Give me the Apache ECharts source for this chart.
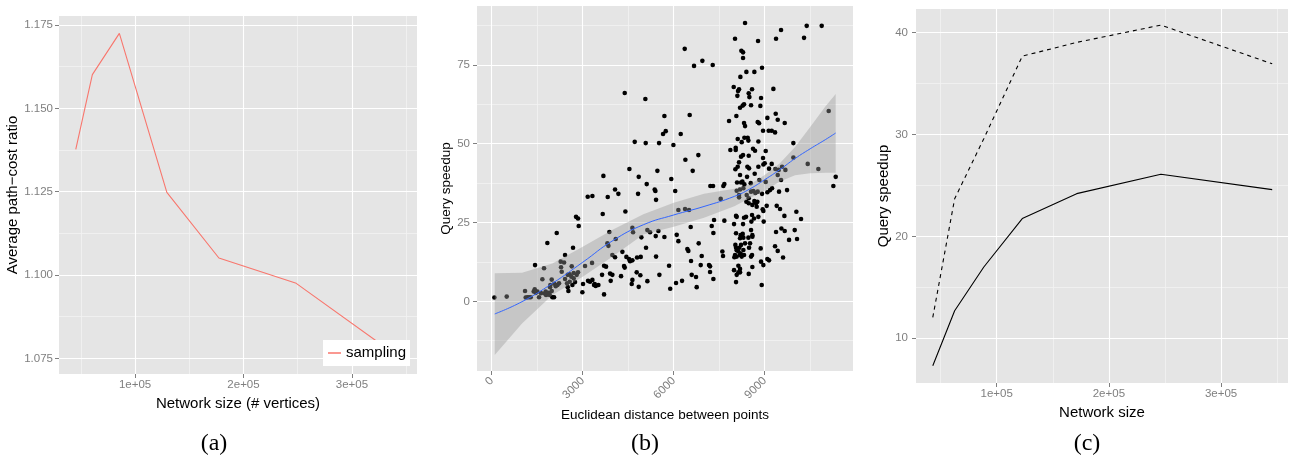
<!DOCTYPE html>
<html>
<head>
<meta charset="utf-8">
<script src="https://cdn.jsdelivr.net/npm/echarts@6/dist/echarts.min.js"></script>
<style>
html,body{margin:0;padding:0;background:#ffffff;}
#chart{width:1289px;height:457px;}
</style>
</head>
<body>
<div id="chart"></div>
<script>
// ---------------- Panel (a) ----------------
const aNetworkSize   = [45300, 60600, 85500, 129300, 177300, 248600, 347000];
const aPathCostRatio = [1.1377, 1.1601, 1.1725, 1.1248, 1.1051, 1.0975, 1.0745];
const aXTicks = [100000, 200000, 300000];
const aXMinor = [50000, 150000, 250000, 350000];
const aYTicks = [1.075, 1.100, 1.125, 1.150, 1.175];
const aYMinor = [1.0875, 1.1125, 1.1375, 1.1625];

// ---------------- Panel (b) ----------------
const bPoints = [
[88,1.2],[495,1.5],[1099,3.3],[1121,1.2],[1176,1.3],[1231,1.3],[1286,1.3],[1385,3.1],[1418,3.8],[1429,11.5],
[1451,2.7],[1506,3.1],[1560,1.3],[1626,2.6],[1670,7.0],[1725,10.5],[1747,2.5],[1780,3.1],[1791,2.0],[1835,2.3],
[1835,18.5],[1868,2.7],[1890,2.5],[1912,2.0],[1923,4.5],[1934,5.2],[1978,3.3],[1978,6.9],[2000,1.3],[2055,1.3],
[2066,5.6],[2110,4.8],[2143,21.7],[2165,5.2],[2220,5.7],[2275,12.6],[2286,10.8],[2308,9.4],[2385,12.3],[2418,7.1],
[2418,14.7],[2484,5.7],[2506,4.5],[2506,8.4],[2528,3.3],[2571,6.2],[2571,8.6],[2626,7.8],[2638,11.1],[2660,5.2],
[2681,17.0],[2703,7.3],[2703,9.0],[2747,6.1],[2780,26.8],[2802,8.4],[2846,9.2],[2846,26.3],[2868,23.9],[2989,2.9],
[3011,5.5],[3077,11.2],[3165,33.2],[3176,6.5],[3242,6.2],[3308,12.2],[3319,6.8],[3319,33.4],[3374,5.2],[3396,5.5],
[3429,4.9],[3517,5.2],[3638,8.4],[3660,27.7],[3682,39.8],[3704,2.2],[3704,11.3],[3770,11.0],[3814,18.4],[3825,33.1],
[3847,17.6],[3879,22.0],[3902,8.8],[3923,6.5],[3978,8.4],[3978,14.7],[4066,14.0],[4066,35.5],[4088,19.8],[4176,34.1],
[4264,8.0],[4308,15.7],[4363,11.2],[4385,10.7],[4385,66.1],[4407,28.5],[4440,14.1],[4528,13.4],[4539,42.0],[4561,12.7],
[4616,5.5],[4638,6.8],[4638,13.0],[4638,23.3],[4660,21.9],[4715,50.6],[4780,9.2],[4792,13.9],[4825,34.1],[4847,4.6],
[4847,39.5],[4900,8.3],[4913,14.1],[4934,20.3],[5066,64.2],[5077,50.2],[5088,17.0],[5110,37.2],[5132,6.4],[5132,22.6],
[5220,21.9],[5374,35.5],[5396,35.0],[5407,20.7],[5418,14.2],[5418,32.2],[5462,41.4],[5495,22.3],[5517,50.2],[5528,8.4],
[5649,53.1],[5693,20.4],[5693,58.8],[5737,54.0],[5847,11.3],[5885,4.0],[5920,38.8],[5990,49.6],
[6050,35.0],[6077,5.8],[6099,21.1],[6154,19.1],[6154,29.0],[6231,53.1],[6275,6.5],[6363,80.1],[6374,29.3],[6385,44.9],
[6450,16.6],[6483,16.0],[6505,29.0],[6527,59.1],[6560,23.6],[6571,12.8],[6593,8.4],[6626,41.4],[6670,74.7],[6736,7.7],
[6758,4.5],[6813,46.4],[6824,18.4],[6890,11.5],[6923,14.4],[6945,76.3],[7165,11.5],[7198,11.1],[7198,9.3],[7209,36.6],
[7253,23.9],[7286,75.0],[7297,36.6],[7308,21.7],[7308,7.1],[7330,25.8],[7549,32.5],[7604,15.8],[7626,14.4],[7637,36.6],
[7670,37.2],[7670,25.6],[7824,57.2],[7868,48.0],[7978,68.0],[7989,24.5],[7989,9.9],[8000,14.0],[8022,83.3],[8022,14.7],
[8033,41.9],[8033,17.9],[8044,48.7],[8044,48.0],[8055,27.1],[8055,21.6],[8055,17.0],[8055,6.1],[8066,58.8],[8077,35.1],
[8077,26.8],[8077,16.2],[8077,14.2],[8077,8.4],[8088,37.7],[8099,65.2],[8110,51.5],[8110,42.7],[8121,66.7],[8132,15.8],
[8132,11.3],[8132,9.2],[8154,67.3],[8154,44.1],[8154,33.0],[8154,33.7],[8165,17.0],[8187,61.4],[8187,40.1],[8187,35.5],
[8187,20.0],[8187,14.7],[8187,10.3],[8187,9.2],[8198,71.2],[8209,21.0],[8209,15.2],[8220,45.9],[8220,37.7],[8220,17.9],
[8231,79.5],[8242,50.5],[8242,14.2],[8264,38.0],[8275,62.1],[8275,21.4],[8286,79.0],[8286,77.2],[8286,46.4],[8286,24.5],
[8297,35.9],[8297,20.2],[8297,16.3],[8319,62.5],[8319,56.6],[8319,26.5],[8319,14.7],[8330,51.9],[8330,37.1],[8352,88.3],
[8352,55.6],[8352,18.4],[8385,26.8],[8396,72.8],[8396,31.6],[8407,33.7],[8418,39.5],[8429,42.7],[8440,51.9],[8462,51.0],
[8462,20.2],[8473,66.0],[8473,46.2],[8473,32.7],[8473,31.1],[8473,8.7],[8484,42.2],[8484,17.0],[8495,64.8],[8517,18.4],
[8539,37.5],[8550,62.2],[8550,34.8],[8550,22.6],[8550,14.2],[8561,25.3],[8582,67.3],[8582,27.4],[8582,14.7],[8593,30.6],
[8593,21.0],[8593,20.5],[8593,10.9],[8615,48.4],[8626,35.0],[8648,26.3],[8659,72.8],[8659,31.8],[8670,40.5],[8681,47.8],
[8692,34.4],[8714,31.1],[8736,30.0],[8758,31.6],[8769,56.9],[8769,34.8],[8780,82.6],[8791,50.7],[8791,42.7],[8791,26.8],
[8813,56.5],[8824,38.5],[8857,62.0],[8868,16.8],[8879,64.5],[8879,12.6],[8901,5.2],[8912,74.1],[8912,34.1],[8934,29.2],
[8945,54.1],[8945,45.5],[8956,43.4],[8956,28.7],[8956,11.5],[8967,25.3],[9000,43.8],[9033,47.7],[9033,37.9],[9066,30.3],
[9088,58.2],[9088,34.6],[9088,13.4],[9132,54.1],[9143,42.1],[9143,13.0],[9176,35.3],[9231,54.1],[9231,43.6],[9242,35.9],
[9286,67.4],[9341,53.6],[9341,17.5],[9352,42.0],[9363,59.5],[9374,83.3],[9374,22.0],[9396,30.3],[9429,57.6],[9429,40.1],
[9429,16.0],[9462,41.7],[9473,34.8],[9506,29.3],[9539,86.1],[9539,38.5],[9550,23.1],[9572,42.7],[9605,13.9],[9649,27.1],
[9660,56.6],[9660,22.3],[9682,41.7],[9737,35.3],[9803,19.5],[9945,50.2],[9945,45.6],[9989,22.6],[10044,28.4],[10066,19.8],
[10198,26.1],[10297,83.6],[10385,87.4],[10418,43.6],[10769,42.0],[10879,87.4],[11110,60.4],[11264,36.6],[11341,39.5]
];
const bSmoothX     = [100, 1000, 2000, 3000, 4000, 5000, 6000, 7000, 8000, 8500, 9000, 9500, 10000, 10500, 11000, 11340];
const bSmoothFit   = [-4.0, -0.1, 5.7, 12.4, 19.3, 24.3, 27.4, 30.1, 33.3, 35.6, 38.6, 41.8, 45.3, 48.4, 51.3, 53.4];
const bSmoothUpper = [8.9, 9.1, 12.0, 17.3, 22.8, 27.6, 31.3, 34.1, 35.7, 37.0, 40.1, 43.8, 49.0, 55.3, 61.8, 65.8];
const bSmoothLower = [-17.0, -7.0, 2.0, 7.8, 14.3, 21.2, 23.7, 26.5, 30.2, 32.7, 35.1, 38.0, 40.0, 40.6, 40.8, 40.8];
const bXTicks = [0, 3000, 6000, 9000];
const bXMinor = [1500, 4500, 7500, 10500];
const bYTicks = [0, 25, 50, 75];
const bYMinor = [-12.5, 12.5, 37.5, 62.5, 87.5];

// ---------------- Panel (c) ----------------
const cNetworkSize   = [43000, 62500, 88500, 122800, 171300, 246400, 345600];
const cSpeedupSolid  = [7.3, 12.7, 17.0, 21.75, 24.2, 26.1, 24.6];
const cSpeedupDashed = [12.05, 23.7, 29.6, 37.7, 39.05, 40.75, 36.95];
const cXTicks = [100000, 200000, 300000];
const cXMinor = [50000, 150000, 250000, 350000];
const cYTicks = [10, 20, 30, 40];
const cYMinor = [15, 25, 35];

const captions = ['(a)', '(b)', '(c)'];

// ---------------- Build chart ----------------
const FONT = '"Liberation Sans", Arial, Helvetica, sans-serif';
const SERIF = '"Liberation Serif", "DejaVu Serif", serif';
const TICK_GREY = '#7F7F7F';
const zip = (xs, ys) => xs.map((x, i) => [x, ys[i]]);
const sci = v => Math.round(v / 1e5) + 'e+05';

function majorAxis(o) {
  return {
    type: 'value', gridIndex: o.grid, min: o.min, max: o.max, position: o.pos, offset: 0,
    name: o.name, nameLocation: 'middle', nameGap: o.nameGap,
    nameTextStyle: { color: '#000000', fontSize: o.nameSize, fontFamily: FONT },
    axisLine: { show: false, onZero: false },
    axisTick: { show: true, length: 4, customValues: o.ticks, lineStyle: { color: TICK_GREY, width: 1 } },
    axisLabel: { show: true, customValues: o.ticks, formatter: o.fmt, color: TICK_GREY,
                 fontSize: 11.5, fontFamily: FONT, margin: o.margin, rotate: o.rotate || 0 },
    splitLine: { show: true, lineStyle: { color: '#FFFFFF', width: 1.1 } },
    z: 1
  };
}
function minorAxis(o) {
  return {
    type: 'value', gridIndex: o.grid, min: o.min, max: o.max, position: o.pos, offset: 0,
    axisLine: { show: false, onZero: false },
    axisTick: { show: false, customValues: o.ticks },
    axisLabel: { show: false, customValues: o.ticks },
    splitLine: { show: true, lineStyle: { color: '#F2F2F2', width: 0.8 } },
    z: 0
  };
}

const A = { xmin: 29840, xmax: 360000, ymin: 1.0703, ymax: 1.1777 };
const B = { xmin: -485, xmax: 11911, ymin: -22.1, ymax: 93.7 };
const C = { xmin: 28040, xmax: 359700, ymin: 5.61, ymax: 42.33 };

const option = {
  animation: false,
  backgroundColor: '#FFFFFF',
  grid: [
    { left: 59, top: 16, width: 358, height: 358, show: true, backgroundColor: '#E5E5E5', borderWidth: 0 },
    { left: 477, top: 6, width: 376, height: 365, show: true, backgroundColor: '#E5E5E5', borderWidth: 0 },
    { left: 916, top: 9, width: 372, height: 374, show: true, backgroundColor: '#E5E5E5', borderWidth: 0 }
  ],
  xAxis: [
    majorAxis({ grid: 0, min: A.xmin, max: A.xmax, pos: 'bottom', ticks: aXTicks, fmt: sci, margin: 5,
                name: 'Network size (# vertices)', nameGap: 15, nameSize: 15 }),
    minorAxis({ grid: 0, min: A.xmin, max: A.xmax, pos: 'top', ticks: aXMinor }),
    majorAxis({ grid: 1, min: B.xmin, max: B.xmax, pos: 'bottom', ticks: bXTicks, fmt: v => String(v), margin: 8, rotate: 45,
                name: 'Euclidean distance between points', nameGap: 32, nameSize: 13.5 }),
    minorAxis({ grid: 1, min: B.xmin, max: B.xmax, pos: 'top', ticks: bXMinor }),
    majorAxis({ grid: 2, min: C.xmin, max: C.xmax, pos: 'bottom', ticks: cXTicks, fmt: sci, margin: 5,
                name: 'Network size', nameGap: 15, nameSize: 15 }),
    minorAxis({ grid: 2, min: C.xmin, max: C.xmax, pos: 'top', ticks: cXMinor })
  ],
  yAxis: [
    majorAxis({ grid: 0, min: A.ymin, max: A.ymax, pos: 'left', ticks: aYTicks, fmt: v => v.toFixed(3), margin: 6,
                name: 'Average path\u2212cost ratio', nameGap: 36, nameSize: 15 }),
    minorAxis({ grid: 0, min: A.ymin, max: A.ymax, pos: 'right', ticks: aYMinor }),
    majorAxis({ grid: 1, min: B.ymin, max: B.ymax, pos: 'left', ticks: bYTicks, fmt: v => String(v), margin: 7,
                name: 'Query speedup', nameGap: 19, nameSize: 13.5 }),
    minorAxis({ grid: 1, min: B.ymin, max: B.ymax, pos: 'right', ticks: bYMinor }),
    majorAxis({ grid: 2, min: C.ymin, max: C.ymax, pos: 'left', ticks: cYTicks, fmt: v => String(v), margin: 8,
                name: 'Query speedup', nameGap: 20, nameSize: 15 }),
    minorAxis({ grid: 2, min: C.ymin, max: C.ymax, pos: 'right', ticks: cYMinor })
  ],
  legend: {
    data: [{ name: 'sampling', icon: 'rect' }], selectedMode: false,
    left: 323, top: 340, orient: 'horizontal',
    padding: [5, 4, 5, 5], backgroundColor: '#FFFFFF',
    itemWidth: 13, itemHeight: 1.5, itemGap: 0,
    textStyle: { fontSize: 15, color: '#000000', fontFamily: FONT, lineHeight: 16 }
  },
  series: [
    { type: 'line', name: 'sampling', xAxisIndex: 0, yAxisIndex: 0,
      data: zip(aNetworkSize, aPathCostRatio), symbol: 'none',
      lineStyle: { color: '#F8766D', width: 1.1 }, itemStyle: { color: '#F8766D' }, z: 3 },

    { type: 'scatter', name: 'points', xAxisIndex: 2, yAxisIndex: 2, data: bPoints,
      symbolSize: 4.6, itemStyle: { color: '#000000', opacity: 1 }, silent: true, z: 2 },
    { type: 'custom', name: 'band', xAxisIndex: 2, yAxisIndex: 2, data: [[bSmoothX[0], bSmoothFit[0]]],
      silent: true, z: 3,
      renderItem: function (params, api) {
        const up = bSmoothX.map((x, i) => api.coord([x, bSmoothUpper[i]]));
        const lo = bSmoothX.map((x, i) => api.coord([x, bSmoothLower[i]])).reverse();
        return { type: 'polygon', shape: { points: up.concat(lo) },
                 style: { fill: 'rgba(153,153,153,0.4)', stroke: null } };
      } },
    { type: 'line', name: 'fit', xAxisIndex: 2, yAxisIndex: 2, data: zip(bSmoothX, bSmoothFit),
      symbol: 'none', smooth: true, lineStyle: { color: '#3366FF', width: 1 }, silent: true, z: 4 },

    { type: 'line', name: 'dashed', xAxisIndex: 4, yAxisIndex: 4, data: zip(cNetworkSize, cSpeedupDashed),
      symbol: 'none', lineStyle: { color: '#000000', width: 1.1, type: [4, 4] }, z: 3 },
    { type: 'line', name: 'solid', xAxisIndex: 4, yAxisIndex: 4, data: zip(cNetworkSize, cSpeedupSolid),
      symbol: 'none', lineStyle: { color: '#000000', width: 1.1 }, z: 3 }
  ],
  graphic: [
    { type: 'text', x: 214, y: 444, style: { text: captions[0], font: '24px ' + SERIF, fill: '#000', textAlign: 'center', textVerticalAlign: 'middle' } },
    { type: 'text', x: 645, y: 444, style: { text: captions[1], font: '24px ' + SERIF, fill: '#000', textAlign: 'center', textVerticalAlign: 'middle' } },
    { type: 'text', x: 1087, y: 444, style: { text: captions[2], font: '24px ' + SERIF, fill: '#000', textAlign: 'center', textVerticalAlign: 'middle' } }
  ]
};

const chart = echarts.init(document.getElementById('chart'), null, { renderer: 'canvas' });
chart.setOption(option);
</script>
</body>
</html>
